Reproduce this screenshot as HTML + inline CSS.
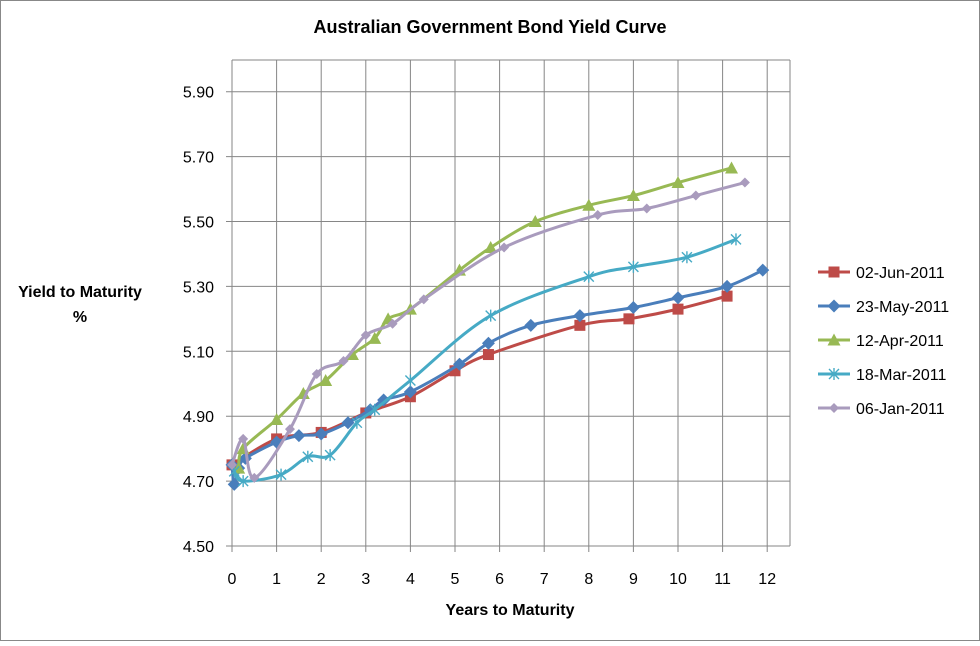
<!DOCTYPE html>
<html><head><style>
body{margin:0;background:#fff}
svg text{font-family:"Liberation Sans",sans-serif}
</style></head><body>
<svg id="c" width="980" height="641" xmlns="http://www.w3.org/2000/svg">
<rect x="0.5" y="0.5" width="979" height="640" fill="#fff" stroke="#888"/>
<text x="490" y="33" text-anchor="middle" font-size="18" font-weight="bold">Australian Government Bond Yield Curve</text>
<text x="80" y="297" text-anchor="middle" font-size="16" font-weight="bold">Yield to Maturity</text>
<text x="80" y="322" text-anchor="middle" font-size="16" font-weight="bold">%</text>
<text x="510" y="615" text-anchor="middle" font-size="16" font-weight="bold">Years to Maturity</text>
<g id="g"></g>
</svg>
<script>
const NS="http://www.w3.org/2000/svg",g=document.getElementById('g');
function el(t,a,txt){const e=document.createElementNS(NS,t);for(const k in a)e.setAttribute(k,a[k]);if(txt)e.textContent=txt;g.appendChild(e);return e;}
const X=t=>232+44.6*t, Y=v=>546-(v-4.5)*324.5;
for(let i=0;i<=12;i++){el('line',{x1:X(i),y1:60,x2:X(i),y2:552,stroke:'#868686'});el('text',{x:X(i),y:584,'text-anchor':'middle','font-size':16},String(i));}
el('line',{x1:232,y1:60,x2:790,y2:60,stroke:'#868686'});
for(let k=0;k<=7;k++){const v=4.5+0.2*k,y=Y(v);el('line',{x1:226,y1:y,x2:790,y2:y,stroke:'#868686'});el('text',{x:214,y:y+6,'text-anchor':'end','font-size':16},v.toFixed(2));}
el('line',{x1:790,y1:60,x2:790,y2:546,stroke:'#868686'});
const S=[
['#BE4B48','sq','02-Jun-2011',[[0,4.75],[1,4.83],[2,4.85],[3,4.91],[4,4.96],[5,5.04],[5.75,5.09],[7.8,5.18],[8.9,5.2],[10,5.23],[11.1,5.27]]],
['#4A7EBB','di','23-May-2011',[[0,4.75],[0.05,4.69],[0.15,4.74],[0.3,4.77],[1,4.82],[1.5,4.84],[2,4.845],[2.6,4.88],[3.1,4.92],[3.4,4.95],[4,4.975],[5.1,5.06],[5.75,5.125],[6.7,5.18],[7.8,5.21],[9,5.235],[10,5.265],[11.1,5.3],[11.9,5.35]]],
['#98B954','tr','12-Apr-2011',[[0.15,4.74],[0.25,4.8],[1,4.89],[1.6,4.97],[2.1,5.01],[2.7,5.09],[3.2,5.14],[3.5,5.2],[4,5.23],[5.1,5.35],[5.8,5.42],[6.8,5.5],[8,5.55],[9,5.58],[10,5.62],[11.2,5.665]]],
['#46AAC5','st','18-Mar-2011',[[0.05,4.73],[0.25,4.70],[1.1,4.72],[1.7,4.775],[2.2,4.78],[2.8,4.88],[3.2,4.92],[4,5.01],[5.8,5.21],[8,5.33],[9,5.36],[10.2,5.39],[11.3,5.445]]],
['#A99BBD','dp','06-Jan-2011',[[0,4.75],[0.25,4.83],[0.5,4.71],[1.3,4.86],[1.9,5.03],[2.5,5.07],[3,5.15],[3.6,5.185],[4.3,5.26],[6.1,5.42],[8.2,5.52],[9.3,5.54],[10.4,5.58],[11.5,5.62]]]];
function mk(t,x,y,c){
 if(t=='sq')el('rect',{x:x-5.5,y:y-5.5,width:11,height:11,fill:c});
 else if(t=='di')el('path',{d:`M${x} ${y-6.5}L${x+6.5} ${y}L${x} ${y+6.5}L${x-6.5} ${y}Z`,fill:c});
 else if(t=='dp')el('path',{d:`M${x} ${y-5}L${x+5} ${y}L${x} ${y+5}L${x-5} ${y}Z`,fill:c});
 else if(t=='tr')el('path',{d:`M${x} ${y-6.5}L${x+6.5} ${y+5.5}L${x-6.5} ${y+5.5}Z`,fill:c});
 else el('path',{d:`M${x-5} ${y-5}L${x+5} ${y+5}M${x-5} ${y+5}L${x+5} ${y-5}M${x} ${y-6}L${x} ${y+6}`,stroke:c,'stroke-width':1.4});
}
S.forEach((s,i)=>{
 const p=s[3].map(d=>[X(d[0]),Y(d[1])]);let d=`M${p[0][0]} ${p[0][1]}`;
 for(let j=0;j<p.length-1;j++){const a=p[j-1]||p[j],b=p[j],c=p[j+1],e=p[j+2]||c;
  d+=`C${b[0]+(c[0]-a[0])/6} ${b[1]+(c[1]-a[1])/6} ${c[0]-(e[0]-b[0])/6} ${c[1]-(e[1]-b[1])/6} ${c[0]} ${c[1]}`;}
 el('path',{d,fill:'none',stroke:s[0],'stroke-width':3});
 p.forEach(q=>mk(s[1],q[0],q[1],s[0]));
 const ly=272+34*i;el('line',{x1:818,y1:ly,x2:850,y2:ly,stroke:s[0],'stroke-width':3});mk(s[1],834,ly,s[0]);
 el('text',{x:856,y:ly+6,'font-size':16},s[2]);
});
</script>
</body></html>
